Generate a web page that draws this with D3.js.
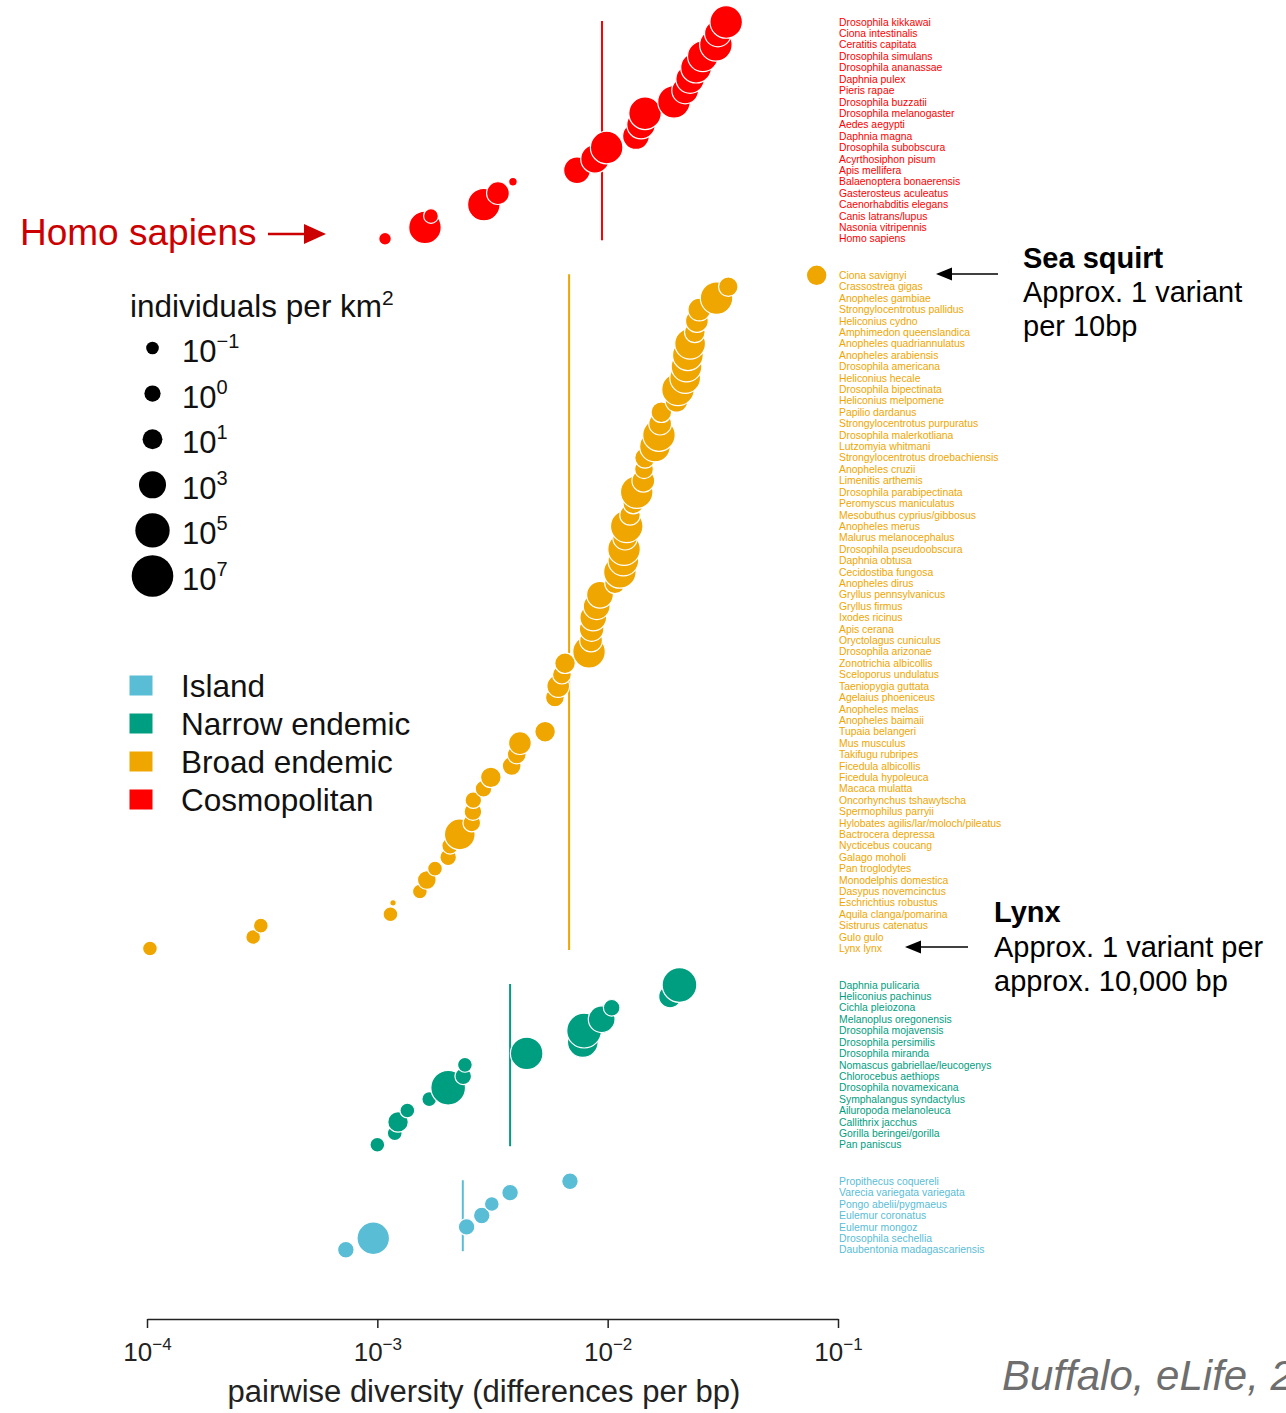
<!DOCTYPE html>
<html>
<head>
<meta charset="utf-8">
<script src="https://cdn.jsdelivr.net/npm/d3@7"></script>
<style>
  body { margin: 0; background: #fff; }
  svg { display: block; overflow: hidden; }
  text { font-family: "Liberation Sans", Arial, Helvetica, sans-serif; }
</style>
</head>
<body>
<svg id="chart" width="1286" height="1413"></svg>
<script>
// ---- data: species ordered by pairwise diversity within each range category ----
// pi = pairwise diversity (differences per bp); density = log10(individuals per km²)

const cosmopolitanSpecies = [
  "Drosophila kikkawai", "Ciona intestinalis", "Ceratitis capitata", "Drosophila simulans",
  "Drosophila ananassae", "Daphnia pulex", "Pieris rapae", "Drosophila buzzatii",
  "Drosophila melanogaster", "Aedes aegypti", "Daphnia magna", "Drosophila subobscura",
  "Acyrthosiphon pisum", "Apis mellifera", "Balaenoptera bonaerensis", "Gasterosteus aculeatus",
  "Caenorhabditis elegans", "Canis latrans/lupus", "Nasonia vitripennis", "Homo sapiens"
];
const cosmopolitanPi = [
  0.0327, 0.0301, 0.0295, 0.0259, 0.0242, 0.0228, 0.0217, 0.0194, 0.01453, 0.01396,
  0.01327, 0.0099, 0.00881, 0.00736, 0.00388, 0.00334, 0.0029, 0.00171, 0.00161, 0.00108
];
const cosmopolitanDensity = [
  4.5, 2.9, 4.5, 4.0, 4.0, 3.4, 2.9, 4.5, 4.5, 3.4,
  2.9, 4.5, 3.4, 2.9, -2.1, 1.8, 4.5, -0.4, 4.5, -1.0
];

const broadSpecies = [
  "Ciona savignyi", "Crassostrea gigas", "Anopheles gambiae", "Strongylocentrotus pallidus",
  "Heliconius cydno", "Amphimedon queenslandica", "Anopheles quadriannulatus", "Anopheles arabiensis",
  "Drosophila americana", "Heliconius hecale", "Drosophila bipectinata", "Heliconius melpomene",
  "Papilio dardanus", "Strongylocentrotus purpuratus", "Drosophila malerkotliana", "Lutzomyia whitmani",
  "Strongylocentrotus droebachiensis", "Anopheles cruzii", "Limenitis arthemis", "Drosophila parabipectinata",
  "Peromyscus maniculatus", "Mesobuthus cyprius/gibbosus", "Anopheles merus", "Malurus melanocephalus",
  "Drosophila pseudoobscura", "Daphnia obtusa", "Cecidostiba fungosa", "Anopheles dirus",
  "Gryllus pennsylvanicus", "Gryllus firmus", "Ixodes ricinus", "Apis cerana",
  "Oryctolagus cuniculus", "Drosophila arizonae", "Zonotrichia albicollis", "Sceloporus undulatus",
  "Taeniopygia guttata", "Agelaius phoeniceus", "Anopheles melas", "Anopheles baimaii",
  "Tupaia belangeri", "Mus musculus", "Takifugu rubripes", "Ficedula albicollis",
  "Ficedula hypoleuca", "Macaca mulatta", "Oncorhynchus tshawytscha", "Spermophilus parryii",
  "Hylobates agilis/lar/moloch/pileatus", "Bactrocera depressa", "Nycticebus coucang", "Galago moholi",
  "Pan troglodytes", "Monodelphis domestica", "Dasypus novemcinctus", "Eschrichtius robustus",
  "Aquila clanga/pomarina", "Sistrurus catenatus", "Gulo gulo", "Lynx lynx"
];
const broadPi = [
  0.0808, 0.0334, 0.0297, 0.0250, 0.0244, 0.0239, 0.0228, 0.0223, 0.0220, 0.0217,
  0.0202, 0.0199, 0.0171, 0.0169, 0.0167, 0.01605, 0.01453, 0.01438, 0.01428, 0.01337,
  0.01292, 0.0125, 0.0121, 0.0119, 0.01178, 0.0117, 0.0113, 0.01076, 0.00926, 0.00896,
  0.00866, 0.00852, 0.00847, 0.0083, 0.00653, 0.00633, 0.0061, 0.0059, null, null,
  0.00535, 0.00416, 0.00403, 0.00383, 0.00311, 0.00289, 0.00261, 0.0026, 0.00257, 0.00228,
  0.00207, 0.00203, 0.00178, 0.00164, 0.00153, 0.00117, 0.00114, 0.000312, 0.000289, 0.000103
];
const broadDensity = [
  1.2, 0.9, 4.5, 1.8, 1.8, 1.2, 4.0, 4.0, 4.0, 4.0,
  4.5, 1.8, 1.2, 1.8, 4.5, 4.0, 1.2, 0.7, 1.8, 4.5,
  1.2, 1.2, 4.5, 2.3, 4.5, 4.0, 4.5, 1.2, 2.9, 2.9,
  2.9, 2.3, 1.8, 4.5, 1.2, 0.7, 1.8, 0.7, null, null,
  1.2, 1.8, 0.7, 0.7, 1.2, 0.1, 0.1, 0.4, 0.4, 4.0,
  0.1, 0.1, -0.4, 0.7, -0.4, -2.7, -0.4, -0.4, -0.4, -0.4
];

const narrowSpecies = [
  "Daphnia pulicaria", "Heliconius pachinus", "Cichla pleiozona", "Melanoplus oregonensis",
  "Drosophila mojavensis", "Drosophila persimilis", "Drosophila miranda", "Nomascus gabriellae/leucogenys",
  "Chlorocebus aethiops", "Drosophila novamexicana", "Symphalangus syndactylus", "Ailuropoda melanoleuca",
  "Callithrix jacchus", "Gorilla beringei/gorilla", "Pan paniscus"
];
const narrowPi = [
  0.0205, 0.01866, 0.01041, 0.00942, 0.0079, 0.0078, 0.00445, 0.0024,
  0.00236, 0.00203, 0.00168, 0.00135, 0.00123, 0.00119, 0.00100
];
const narrowDensity = [5.1, 1.8, 0.1, 2.9, 5.1, 4.0, 4.5, -0.4, 0.1, 5.1, -0.4, -0.4, 1.2, -0.4, -0.4];

const islandSpecies = [
  "Propithecus coquereli", "Varecia variegata variegata", "Pongo abelii/pygmaeus", "Eulemur coronatus",
  "Eulemur mongoz", "Drosophila sechellia", "Daubentonia madagascariensis"
];
const islandPi = [0.00686, 0.00377, 0.00314, 0.00284, 0.00244, 0.00096, 0.00073];
const islandDensity = [0.1, 0.1, -0.4, 0.1, 0.1, 4.5, 0.1];

// per-category average diversity (vertical reference lines)
const categoryMeans = { Cosmopolitan: 0.00945, "Broad endemic": 0.0068, "Narrow endemic": 0.00377, Island: 0.00235 };

// legend content
const legendCategories = ["Island", "Narrow endemic", "Broad endemic", "Cosmopolitan"];
const densityLegendExponents = [-1, 0, 1, 3, 5, 7];
const xTickExponents = [-4, -3, -2, -1];

const colors = {
  Cosmopolitan: "#ff0000",
  "Broad endemic": "#efa600",
  "Narrow endemic": "#009e80",
  Island: "#5abdd6"
};

// ---- layout ----
const svg = d3.select("#chart");
const GAP = 2.2;  // blank rows between categories

const groups = [
  { name: "Cosmopolitan", species: cosmopolitanSpecies, pi: cosmopolitanPi, density: cosmopolitanDensity },
  { name: "Broad endemic", species: broadSpecies, pi: broadPi, density: broadDensity },
  { name: "Narrow endemic", species: narrowSpecies, pi: narrowPi, density: narrowDensity },
  { name: "Island", species: islandSpecies, pi: islandPi, density: islandDensity }
];

let slot = 0;
groups.forEach(g => {
  g.rows = g.species.map((s, i) => ({ name: s, pi: g.pi[i], dens: g.density[i], slot: slot + i, group: g.name }));
  slot += g.species.length + GAP;
});
const lastSlot = slot - GAP - 1;

const x = d3.scaleLog().domain([1e-4, 1e-1]).range([147, 838]);
const y = d3.scaleLinear().domain([0, lastSlot]).range([22, 1249.7]);
const r = d3.scaleLinear().domain([-1, 7]).range([6.3, 20.8]);

// ---- category mean lines ----
groups.forEach(g => {
  const m = categoryMeans[g.name];
  svg.append("line")
    .attr("x1", x(m)).attr("x2", x(m))
    .attr("y1", y(g.rows[0].slot) - 1)
    .attr("y2", y(g.rows[g.rows.length - 1].slot) + 1.5)
    .attr("stroke", colors[g.name])
    .attr("stroke-width", 2);
});

// ---- points (lower rows first so upper rows sit on top) ----
groups.forEach(g => {
  const pts = g.rows.filter(d => d.pi != null).slice().reverse();
  svg.append("g").selectAll("circle")
    .data(pts)
    .join("circle")
    .attr("cx", d => x(d.pi))
    .attr("cy", d => y(d.slot))
    .attr("r", d => Math.max(2.5, r(d.dens)))
    .attr("fill", colors[g.name])
    .attr("stroke", "#fff")
    .attr("stroke-width", 1.2);
});

// ---- species labels ----
groups.forEach(g => {
  svg.append("g").selectAll("text")
    .data(g.rows)
    .join("text")
    .attr("x", x(1e-1) + 1)
    .attr("y", d => y(d.slot))
    .attr("dy", "0.35em")
    .attr("font-size", 10.4)
    .attr("fill", colors[g.name])
    .text(d => d.name);
});

// ---- x axis ----
const axis = d3.axisBottom(x)
  .tickValues(xTickExponents.map(e => Math.pow(10, e)))
  .tickSize(9).tickSizeOuter(0).tickFormat("");
const gAxis = svg.append("g").attr("transform", "translate(0,1319)").call(axis);
gAxis.select(".domain").attr("stroke", "#222").attr("stroke-width", 1.5);
gAxis.selectAll(".tick line").attr("stroke", "#222").attr("stroke-width", 1.5);
gAxis.selectAll(".tick").each(function (d) {
  const e = Math.round(Math.log10(d));
  const t = d3.select(this).append("text")
    .attr("y", 42).attr("text-anchor", "middle")
    .attr("font-size", 26).attr("fill", "#222");
  t.append("tspan").text("10");
  t.append("tspan").attr("dy", -11).attr("font-size", 17).text(String(e).replace("-", "\u2212"));
});
svg.append("text")
  .attr("x", 484).attr("y", 1402)
  .attr("text-anchor", "middle")
  .attr("font-size", 31).attr("fill", "#222")
  .text("pairwise diversity (differences per bp)");

// ---- density legend ----
const sizeLegend = svg.append("g");
const legendTitle = sizeLegend.append("text")
  .attr("x", 130).attr("y", 317).attr("font-size", 31.5).attr("fill", "#111");
legendTitle.append("tspan").text("individuals per km");
legendTitle.append("tspan").attr("dy", -12).attr("font-size", 21).text("2");

densityLegendExponents.forEach((e, i) => {
  const cy = 348 + 45.6 * i;
  sizeLegend.append("circle").attr("cx", 152.5).attr("cy", cy).attr("r", r(e)).attr("fill", "#000");
  const t = sizeLegend.append("text").attr("x", 182).attr("y", cy + 14)
    .attr("font-size", 31).attr("fill", "#111");
  t.append("tspan").text("10");
  t.append("tspan").attr("dy", -14).attr("font-size", 20).text(String(e).replace("-", "\u2212"));
});

// ---- category legend ----
legendCategories.forEach((c, i) => {
  const cy = 685.5 + 38 * i;
  svg.append("rect").attr("x", 129.5).attr("y", cy - 10).attr("width", 23).attr("height", 20)
    .attr("fill", colors[c]);
  svg.append("text").attr("x", 181).attr("y", cy + 11.5)
    .attr("font-size", 31.5).attr("fill", "#111").text(c);
});

// ---- annotations ----
function arrow(x1, x2, yy, color, width, headLen, headHalf) {
  const dir = Math.sign(x2 - x1);
  svg.append("line").attr("x1", x1).attr("x2", x2 - dir * headLen * 0.8)
    .attr("y1", yy).attr("y2", yy).attr("stroke", color).attr("stroke-width", width);
  svg.append("path")
    .attr("d", `M${x2},${yy} L${x2 - dir * headLen},${yy - headHalf} L${x2 - dir * headLen},${yy + headHalf} Z`)
    .attr("fill", color);
}

svg.append("text").attr("x", 20).attr("y", 245)
  .attr("font-size", 37).attr("fill", "#cc0000").text("Homo sapiens");
arrow(268, 326, 234, "#cc0000", 2.5, 22, 10);

// sea squirt note
arrow(998, 936, 274, "#000", 1.5, 16, 6.5);
const seaNote = svg.append("g").attr("font-size", 29).attr("fill", "#000");
seaNote.append("text").attr("x", 1023).attr("y", 268).attr("font-weight", "bold").text("Sea squirt");
seaNote.append("text").attr("x", 1023).attr("y", 302).text("Approx. 1 variant");
seaNote.append("text").attr("x", 1023).attr("y", 336).text("per 10bp");

// lynx note
arrow(968, 905, 947, "#000", 1.5, 16, 6.5);
const lynxNote = svg.append("g").attr("font-size", 29).attr("fill", "#000");
lynxNote.append("text").attr("x", 994).attr("y", 922).attr("font-weight", "bold").text("Lynx");
lynxNote.append("text").attr("x", 994).attr("y", 957).text("Approx. 1 variant per");
lynxNote.append("text").attr("x", 994).attr("y", 991).text("approx. 10,000 bp");

// citation, running off the right edge of the page
svg.append("text").attr("x", 1002).attr("y", 1390)
  .attr("font-size", 42).attr("font-style", "italic").attr("fill", "#6e6e6e")
  .text("Buffalo, eLife, 2016");
</script>
</body>
</html>
